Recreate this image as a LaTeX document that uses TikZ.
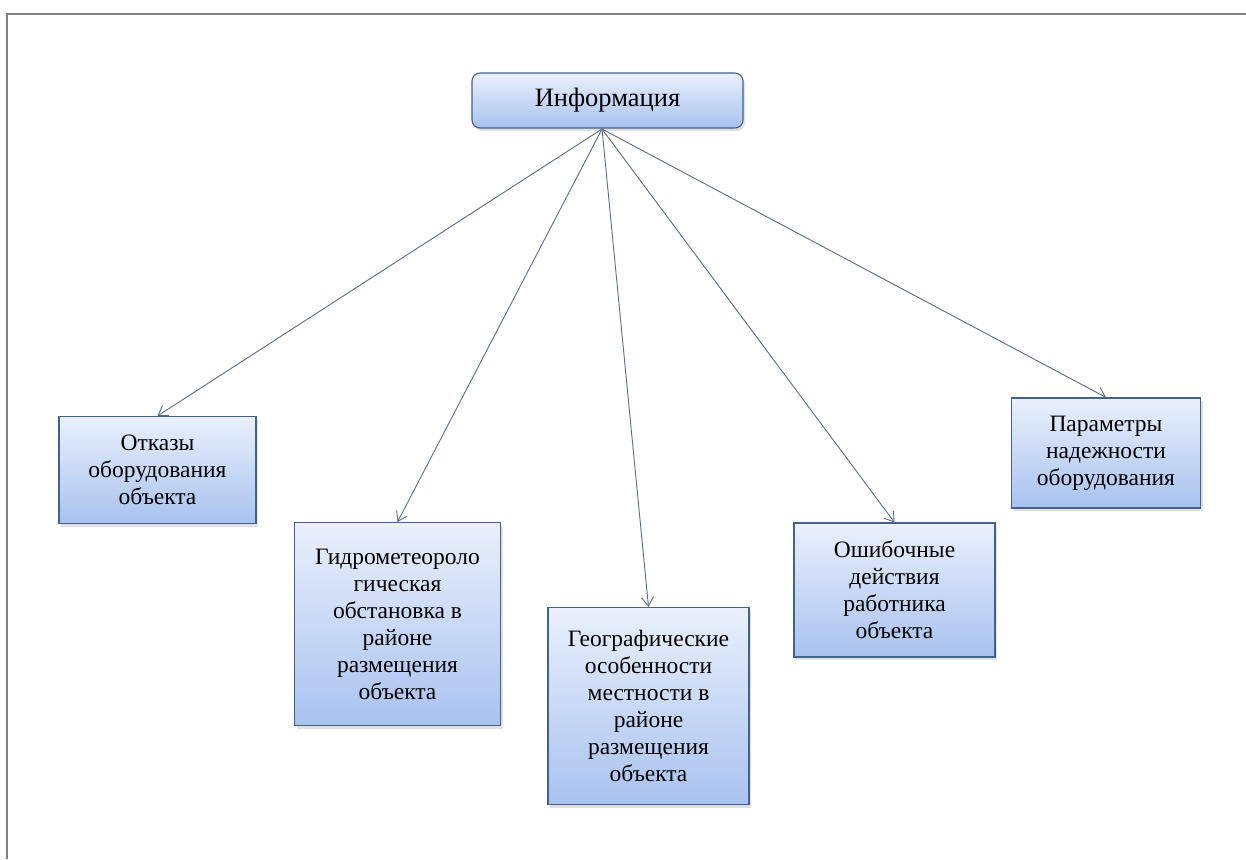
\documentclass[tikz,border=0pt]{standalone}
\usepackage{fontspec}
\setmainfont{Liberation Serif}
\newfontfamily\tnr{Liberation Serif}
\usetikzlibrary{arrows.meta,shadows}
\definecolor{boxtop}{HTML}{EAF0FC}
\definecolor{boxbot}{HTML}{A8C2EF}
\definecolor{boxline}{HTML}{44618C}
\definecolor{arrowc}{HTML}{5A6C88}
\definecolor{framec}{HTML}{808080}
\begin{document}
\begin{tikzpicture}[x=1pt,y=-1pt,
  infobox/.style={draw=boxline, line width=1.1pt, top color=boxtop, bottom color=boxbot,
    align=center, inner sep=2pt,
    font=\tnr\fontsize{23.5}{27}\selectfont,
    drop shadow={shadow xshift=2pt, shadow yshift=-3pt, opacity=0.35, fill=gray!70}},
  arr/.style={draw=arrowc, line width=0.9pt, -{Straight Barb[length=9pt,width=12pt]}},
  frameline/.style={draw=framec, line width=2pt}
]
\useasboundingbox (0,0) rectangle (1246,859);
\draw[frameline] (6,14) -- (1246,14);
\draw[frameline] (7,14) -- (7,859);

\node[infobox, rounded corners=8pt, minimum width=271pt, minimum height=55pt,
  font=\tnr\fontsize{26.5}{30}\selectfont] (info) at (607.5,100.5) {Информация};

\node[infobox, minimum width=197pt, minimum height=107pt] (otk) at (157.5,470) {Отказы\\оборудования\\объекта};
\node[infobox, minimum width=206pt, minimum height=203pt] (gidro) at (397.5,624) {Гидрометеороло\\гическая\\обстановка в\\районе\\размещения\\объекта};
\node[infobox, minimum width=201pt, minimum height=197pt] (geo) at (648.5,706) {Географические\\особенности\\местности в\\районе\\размещения\\объекта};
\node[infobox, minimum width=201pt, minimum height=134pt] (osh) at (894.5,590) {Ошибочные\\действия\\работника\\объекта};
\node[infobox, minimum width=189pt, minimum height=110pt] (par) at (1106,453) {Параметры\\надежности\\оборудования};

\coordinate (src) at (602,129);
\draw[arr] (src) -- (otk.north);
\draw[arr] (src) -- (gidro.north);
\draw[arr] (src) -- (geo.north);
\draw[arr] (src) -- (osh.north);
\draw[arr] (src) -- (par.north);
\end{tikzpicture}
\end{document}
